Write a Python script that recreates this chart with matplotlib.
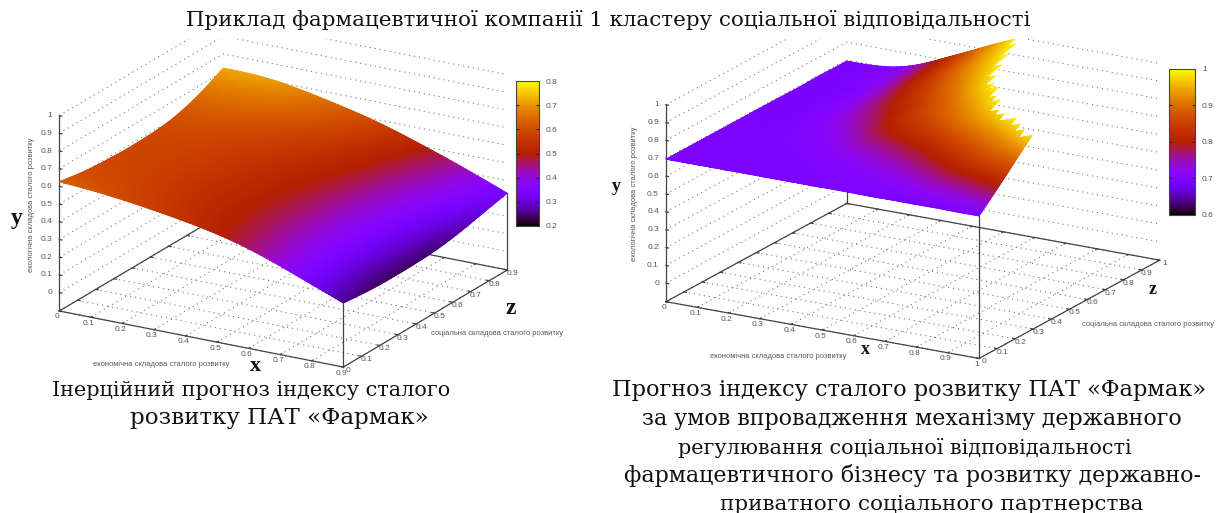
import matplotlib
matplotlib.use("Agg")
import matplotlib.pyplot as plt
import matplotlib.tri as mtri
import numpy as np
from matplotlib.cm import ScalarMappable
from matplotlib.colors import LinearSegmentedColormap, Normalize
from matplotlib.patches import Rectangle
from mpl_toolkits.mplot3d import proj3d

W, H = 1226, 513

# -----Data-----#
title = "Приклад фармацевтичної компанії 1 кластеру соціальної відповідальності"
econ_label = "економічна складова сталого розвитку"
social_label = "соціальна складова сталого розвитку"
ecol_label = "екологічна складова сталого розвитку"

y_ticks = [0, 0.1, 0.2, 0.3, 0.4, 0.5, 0.6, 0.7, 0.8, 0.9, 1]

left_ticks = [0, 0.1, 0.2, 0.3, 0.4, 0.5, 0.6, 0.7, 0.8, 0.9]
left_cb_ticks = [0.2, 0.3, 0.4, 0.5, 0.6, 0.7, 0.8]
left_x = [0, 0.15, 0.3, 0.45, 0.6, 0.75, 0.9]
left_z = [0, 0.15, 0.3, 0.45, 0.6, 0.75, 0.9]
left_vals = [
    [0.627, 0.605, 0.570, 0.525, 0.458, 0.362, 0.258],
    [0.600, 0.585, 0.552, 0.510, 0.445, 0.350, 0.242],
    [0.588, 0.578, 0.548, 0.507, 0.442, 0.347, 0.238],
    [0.587, 0.581, 0.553, 0.514, 0.449, 0.354, 0.242],
    [0.600, 0.598, 0.571, 0.532, 0.466, 0.372, 0.260],
    [0.645, 0.642, 0.610, 0.563, 0.491, 0.400, 0.294],
    [0.720, 0.710, 0.665, 0.605, 0.525, 0.432, 0.330],
]

right_ticks = [0, 0.1, 0.2, 0.3, 0.4, 0.5, 0.6, 0.7, 0.8, 0.9, 1]
right_cb_ticks = [0.6, 0.7, 0.8, 0.9, 1]
right_x = [0, 0.2, 0.3, 0.4, 0.5, 0.6, 0.7, 0.8, 0.9, 1]
right_z = [0, 0.1, 0.2, 0.3, 0.4, 0.5, 0.6, 0.8, 1]
right_vals = [
    [0.695, 0.695, 0.695, 0.695, 0.695, 0.695, 0.695, 0.695, 0.695, 0.695],
    [0.695, 0.695, 0.695, 0.697, 0.702, 0.710, 0.720, 0.740, 0.760, 0.790],
    [0.695, 0.695, 0.697, 0.705, 0.720, 0.740, 0.770, 0.810, 0.850, 0.890],
    [0.695, 0.697, 0.705, 0.730, 0.760, 0.790, 0.830, 0.880, 0.930, 0.990],
    [0.695, 0.700, 0.720, 0.760, 0.810, 0.850, 0.900, 0.950, 1.010, 1.080],
    [0.695, 0.705, 0.740, 0.785, 0.840, 0.890, 0.945, 1.010, 1.090, 1.160],
    [0.695, 0.710, 0.755, 0.810, 0.865, 0.925, 0.990, 1.060, 1.150, 1.220],
    [0.695, 0.720, 0.780, 0.850, 0.920, 0.985, 1.050, 1.130, 1.240, 1.300],
    [0.695, 0.730, 0.800, 0.880, 0.960, 1.030, 1.090, 1.160, 1.260, 1.340],
]

left_caption = ["Інерційний прогноз індексу сталого", "розвитку ПАТ «Фармак»"]
right_caption = [
    "Прогноз індексу сталого розвитку ПАТ «Фармак»",
    "за умов впровадження механізму державного",
    "регулювання соціальної відповідальності",
    "фармацевтичного бізнесу та розвитку державно-",
    "приватного соціального партнерства",
]


# gnuplot's default pm3d palette (rgbformulae 7,5,15)
def pm3d_cmap():
    t = np.linspace(0, 1, 256)
    rgb = np.c_[np.sqrt(t), t ** 3, np.clip(np.sin(2 * np.pi * t), 0, 1)]
    return LinearSegmentedColormap.from_list("pm3d", rgb, N=256)


cmap = pm3d_cmap()
GREY = "#555555"
AXIS = "#444444"


def fig_text(fig, x, y, s, **kw):
    kw.setdefault("ha", "center")
    kw.setdefault("va", "center")
    return fig.text(x / W, 1 - y / H, s, **kw)


def fit_line(fig, x0, x1, baseline, s):
    # serif lines in the picture are stretched, so size each one to its width
    t = fig.text(x0 / W, 1 - baseline / H, s, family="DejaVu Serif", fontsize=13,
                 color="#111111", va="baseline", ha="left", zorder=6)
    w = t.get_window_extent(fig.canvas.get_renderer()).width
    t.set_fontsize(13 * (x1 - x0) / w)
    return t


def project(ax, x, z, v):
    px, py, _ = proj3d.proj_transform(x, z, v, ax.get_proj())
    return px, py


def place_axes(ax, origin_px, end_px, floor, xmax):
    # square axes, sized so the floor edge lands on the two pixels given
    f0 = ax.transLimits.transform(project(ax, 0, 0, floor))
    f1 = ax.transLimits.transform(project(ax, xmax, 0, floor))
    size = (end_px[0] - origin_px[0]) / (f1[0] - f0[0])
    left = origin_px[0] - f0[0] * size
    bottom = (H - origin_px[1]) - f0[1] * size
    ax.set_position([left / W, bottom / H, size / W, size / H])


def tick_label(ax, x, z, v, s, dx, dy, **kw):
    kw.setdefault("ha", "center")
    ax.annotate(s, xy=project(ax, x, z, v), xytext=(dx, dy), textcoords="offset pixels",
                va="center", fontsize=6, color=GREY, annotation_clip=False,
                family="Liberation Sans", **kw)


def draw_frame(ax, ticks, floor, xmax, zmax, verticals):
    dots = dict(color="#777777", lw=0.8, linestyle=(0, (1, 3.5)), zorder=1)
    solid = dict(color=AXIS, lw=0.9, zorder=1)
    for t in ticks:
        ax.plot([t, t], [0, zmax], [floor, floor], **dots)
        ax.plot([0, xmax], [t, t], [floor, floor], **dots)
    for v in y_ticks:
        ax.plot([0, 0, xmax], [0, zmax, zmax], [v, v, v], **dots)
    # floor rectangle and tick marks
    ax.plot([0, xmax, xmax, 0, 0], [0, 0, zmax, zmax, 0], [floor] * 5, **solid)
    tl = 0.008
    for t in ticks:
        ax.plot([t, t], [0, tl], [floor, floor], **solid)
        ax.plot([t, t], [zmax - tl, zmax], [floor, floor], **solid)
        ax.plot([0, tl], [t, t], [floor, floor], **solid)
        ax.plot([xmax - tl, xmax], [t, t], [floor, floor], **solid)
    # y axis on the left
    ax.plot([0, 0], [0, 0], [floor, 1], **solid)
    for v in y_ticks:
        ax.plot([0, tl], [0, 0], [v, v], **solid)
    # verticals up to the surface corners
    for x, z, v, zo in verticals:
        ax.plot([x, x], [z, z], [floor, v], color=AXIS, lw=0.9, zorder=zo)


def draw_surface(ax, xs, zs, vals, norm, block=None):
    X, Z = np.meshgrid(xs, zs)
    tri = mtri.Triangulation(X.ravel(), Z.ravel())
    fine, fine_v = mtri.UniformTriRefiner(tri).refine_field(np.ravel(vals), subdiv=4)
    if block is not None:
        # values above the y range are dropped cell by cell, which leaves the saw edge
        ix = np.floor(fine.x / block).astype(int)
        iz = np.floor(fine.y / block).astype(int)
        ids = ix * 1000 + iz
        uniq, inv = np.unique(ids, return_inverse=True)
        top = np.full(uniq.size, -np.inf)
        np.maximum.at(top, inv, fine_v)
        over = top[inv] > 1.0
        fine.set_mask(over[fine.triangles].any(axis=1))
    surf = ax.plot_trisurf(fine, fine_v, cmap=cmap, norm=norm, shade=False, linewidth=0.6,
                           antialiased=True, zorder=2)
    surf.set_edgecolor("face")


def make_3d(fig, elev, xmax, zmax, floor, aspect):
    ax = fig.add_axes([0, 0, 300 / W, 300 / H], projection="3d", computed_zorder=False)
    ax.set_proj_type("ortho")
    ax.view_init(elev=elev, azim=-60)
    ax.set_xlim(0, xmax, view_margin=0)
    ax.set_ylim(0, zmax, view_margin=0)
    ax.set_zlim(floor, 1, view_margin=0)
    ax.set_box_aspect((1, 1, aspect))
    ax.set_axis_off()
    ax.patch.set_visible(False)
    return ax


def make_cbar(fig, box, norm, ticks):
    x0, y0, x1, y1 = box
    cax = fig.add_axes([x0 / W, 1 - y1 / H, (x1 - x0) / W, (y1 - y0) / H])
    cb = fig.colorbar(ScalarMappable(norm=norm, cmap=cmap), cax=cax, ticks=ticks, format="%g")
    cb.outline.set_edgecolor(AXIS)
    cb.outline.set_linewidth(0.8)
    cax.yaxis.set_ticks_position("both")
    cax.tick_params(direction="in", length=2.5, width=0.7, color="#222222", labelleft=False,
                    labelright=True, labelsize=6, labelcolor=GREY, pad=5)
    for lab in cax.get_yticklabels():
        lab.set_family("Liberation Sans")


# -----Plot-----#
fig = plt.figure(figsize=(W / 100, H / 100), dpi=100, facecolor="white")

# left surface
floor_l = -0.104
norm_l = Normalize(0.2, 0.8)
ax_l = make_3d(fig, 20, 0.9, 0.9, floor_l, 0.634)
place_axes(ax_l, (59.3, 311), (343.3, 366.7), floor_l, 0.9)
lv = np.array(left_vals)
draw_frame(ax_l, left_ticks, floor_l, 0.9, 0.9,
           [(0.9, 0, lv[0, -1], 3), (0.9, 0.9, lv[-1, -1], 3)])
draw_surface(ax_l, left_x, left_z, left_vals, norm_l)
for t in left_ticks:
    tick_label(ax_l, t, 0, floor_l, f"{t:g}", -2, -6)
    tick_label(ax_l, 0.9, t, floor_l, f"{t:g}", 5, -3.5)
for v in y_ticks:
    tick_label(ax_l, 0, 0, v, f"{v:g}", -7, 0, ha="right")
make_cbar(fig, (516, 81, 539, 226), norm_l, left_cb_ticks)
fig_text(fig, 160.8, 364, econ_label, fontsize=5.4, color=GREY, family="Liberation Sans")
fig_text(fig, 497.3, 333.3, social_label, fontsize=5.4, color=GREY, family="Liberation Sans")
fig_text(fig, 30.7, 204.5, ecol_label, fontsize=5.4, color=GREY, rotation=90, family="Liberation Sans")
big = dict(family="Liberation Serif", weight="bold", color="#111111")
fig_text(fig, 17, 219, "y", fontsize=17, **big)
fig_text(fig, 255, 366, "x", fontsize=16, **big)
fig_text(fig, 510.7, 309, "z", fontsize=17, **big)

# right surface
floor_r = -0.103
norm_r = Normalize(0.6, 1)
ax_r = make_3d(fig, 18.3, 1, 1, floor_r, 0.574)
place_axes(ax_r, (666, 301.7), (979, 358.3), floor_r, 1)
rv = np.array(right_vals)
draw_frame(ax_r, right_ticks, floor_r, 1, 1,
           [(1, 0, rv[0, -1], 3), (0, 1, rv[-1, 0], 1)])
draw_surface(ax_r, right_x, right_z, right_vals, norm_r, block=0.03)
for t in right_ticks:
    tick_label(ax_r, t, 0, floor_r, f"{t:g}", -2, -6)
    tick_label(ax_r, 1, t, floor_r, f"{t:g}", 5, -3.5)
for v in y_ticks:
    tick_label(ax_r, 0, 0, v, f"{v:g}", -7, 0, ha="right")
make_cbar(fig, (1169, 69, 1195, 215), norm_r, right_cb_ticks)
fig_text(fig, 778, 355.7, econ_label, fontsize=5.4, color=GREY, family="Liberation Sans")
fig_text(fig, 1148.3, 324.3, social_label, fontsize=5.4, color=GREY, family="Liberation Sans")
fig_text(fig, 634.3, 194, ecol_label, fontsize=5.4, color=GREY, rotation=90, family="Liberation Sans")
fig_text(fig, 616.7, 187, "y", fontsize=13, **big)
fig_text(fig, 865, 350, "x", fontsize=13, **big)
fig_text(fig, 1152.7, 289, "z", fontsize=13, **big)

# the plots are cut off under the title
fig.add_artist(Rectangle((0, 1 - 39 / H), 1, 39 / H, transform=fig.transFigure,
                         facecolor="white", edgecolor="none", zorder=5))

fit_line(fig, 186, 1030, 26, title)
for s, (x0, x1, y) in zip(left_caption, [(52, 448, 396), (130, 428, 424)]):
    fit_line(fig, x0, x1, y, s)
for s, (x0, x1, y) in zip(right_caption, [(612, 1203, 396), (642, 1180, 425), (678, 1130, 454),
                                          (624, 1200, 482), (720, 1140, 510)]):
    fit_line(fig, x0, x1, y, s)

fig.savefig("out.png", dpi=100)
